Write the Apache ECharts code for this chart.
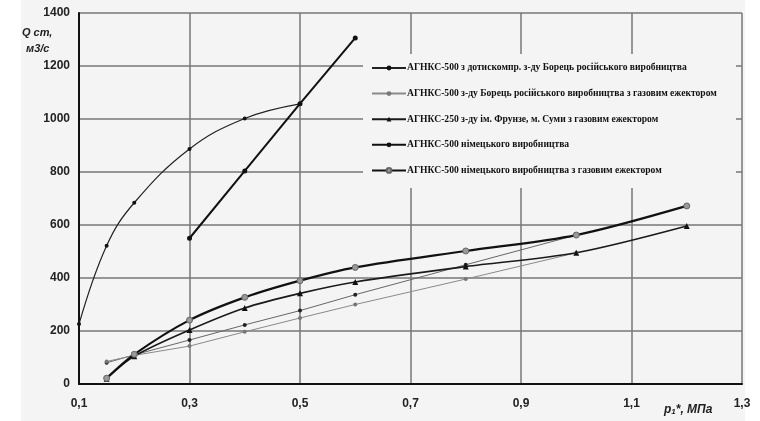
<!DOCTYPE html>
<html>
<head>
<meta charset="utf-8">
<script src="https://cdn.jsdelivr.net/npm/echarts@6/dist/echarts.min.js"></script>
<style>
html,body{margin:0;padding:0;background:#fff;}
#chart{width:760px;height:421px;}
</style>
</head>
<body>
<div id="chart"></div>
<script>
// назви рядів (легенда)
var names = [
	'АГНКС-500 з дотискомпр. з-ду Борець російського виробництва',
	'АГНКС-500 з-ду Борець російського виробництва з газовим ежектором',
	'АГНКС-250 з-ду ім. Фрунзе, м. Суми з газовим ежектором',
	'АГНКС-500 німецького виробництва',
	'АГНКС-500 німецького виробництва з газовим ежектором'
];
// тиск p1*, МПа та подача Q ст, м3/с
var xS1 = [0.1, 0.15, 0.2, 0.3, 0.4, 0.5];
var yS1 = [226, 522, 684, 887, 1002, 1057];
var xD = [0.15, 0.2, 0.3, 0.4, 0.5, 0.6, 0.8, 1.0];
var yD = [80, 110, 166, 223, 277, 337, 450, 562];
var xE = [0.15, 0.2, 0.3, 0.4, 0.5, 0.6, 0.8, 1.0];
var yE = [85, 108, 143, 197, 249, 300, 396, 495];
var xB = [0.15, 0.2, 0.3, 0.4, 0.5, 0.6, 0.8, 1.0, 1.2];
var yB = [20, 105, 204, 287, 342, 385, 443, 495, 596];
var xL = [0.3, 0.4, 0.5, 0.6];
var yL = [550, 804, 1058, 1306];
var xT = [0.15, 0.2, 0.3, 0.4, 0.5, 0.6, 0.8, 1.0, 1.2];
var yT = [22, 112, 241, 327, 390, 440, 502, 562, 672];

function pairs(xs, ys){
	var out = [];
	for (var i = 0; i < xs.length; i++) out.push([xs[i], ys[i]]);
	return out;
}
function fmt(v){ return String(+v.toFixed(1)).replace('.', ','); }

var myChart = echarts.init(document.getElementById('chart'));
var option = {
	animation: false,
	textStyle: {fontFamily: 'Liberation Sans, Arial'},
	grid: {left: 79, right: 18, top: 13, bottom: 37},
	graphic: [
		{type: 'rect', z: -10, silent: true, shape: {x: 21, y: 0, width: 724, height: 421}, style: {fill: '#f4f4f4'}},
		{type: 'rect', z: 3, silent: true, shape: {x: 363, y: 54, width: 373, height: 134}, style: {fill: '#f4f4f4'}},
		{type: 'text', left: 22, top: 27, style: {text: 'Q ст,', font: 'italic bold 11px Liberation Sans', fill: '#222'}},
		{type: 'text', left: 26, top: 43, style: {text: 'м3/с', font: 'italic bold 11px Liberation Sans', fill: '#222'}},
		{type: 'text', left: 664, top: 404, style: {
			text: '{a|р}{b|1}{a|*, МПа}',
			rich: {
				a: {font: 'italic bold 12px Liberation Sans', fill: '#222'},
				b: {font: 'italic bold 8px Liberation Sans', fill: '#222', padding: [4, 0, 0, 0]}
			}
		}}
	],
	legend: {
		data: names,
		orient: 'vertical',
		left: 366,
		top: 58,
		itemGap: 15.6,
		itemWidth: 34,
		itemHeight: 6,
		z: 5,
		textStyle: {fontFamily: 'Liberation Serif', fontWeight: 'bold', fontSize: 9.6, color: '#111', padding: [0, 0, 0, -4]}
	},
	xAxis: {
		type: 'value', min: 0.1, max: 1.3, interval: 0.2,
		axisLine: {onZero: false, lineStyle: {color: '#111', width: 2}},
		axisTick: {show: false},
		axisLabel: {formatter: fmt, fontWeight: 'bold', fontSize: 12, color: '#222', margin: 14},
		splitLine: {lineStyle: {color: '#777', width: 1.5}}
	},
	yAxis: {
		type: 'value', min: 0, max: 1400, interval: 200,
		axisLine: {show: true, lineStyle: {color: '#111', width: 2}},
		axisTick: {show: false},
		axisLabel: {formatter: function(v){ return String(v); }, fontWeight: 'bold', fontSize: 12, color: '#222', margin: 9},
		splitLine: {lineStyle: {color: '#777', width: 1.5}}
	},
	series: [
		{
			name: names[0], type: 'line', smooth: 0.4, data: pairs(xS1, yS1),
			symbol: 'circle', symbolSize: 4,
			lineStyle: {color: '#222', width: 1.2}, itemStyle: {color: '#111'}
		},
		{
			name: names[0], type: 'line', data: pairs(xD, yD),
			symbol: 'circle', symbolSize: 4,
			lineStyle: {color: '#666', width: 1}, itemStyle: {color: '#222'}
		},
		{
			name: names[1], type: 'line', data: pairs(xE, yE),
			symbol: 'circle', symbolSize: 4,
			lineStyle: {color: '#8a8a8a', width: 1}, itemStyle: {color: '#777'}
		},
		{
			name: names[2], type: 'line', smooth: 0.3, data: pairs(xB, yB),
			symbol: 'triangle', symbolSize: 6,
			lineStyle: {color: '#1a1a1a', width: 1.6}, itemStyle: {color: '#111'}
		},
		{
			name: names[3], type: 'line', data: pairs(xL, yL),
			symbol: 'circle', symbolSize: 5,
			lineStyle: {color: '#111', width: 2}, itemStyle: {color: '#111'}
		},
		{
			name: names[4], type: 'line', smooth: 0.3, data: pairs(xT, yT),
			symbol: 'circle', symbolSize: 6,
			lineStyle: {color: '#111', width: 2.2}, itemStyle: {color: '#999', borderColor: '#666', borderWidth: 1}
		}
	]
};
myChart.setOption(option);
</script>
</body>
</html>
